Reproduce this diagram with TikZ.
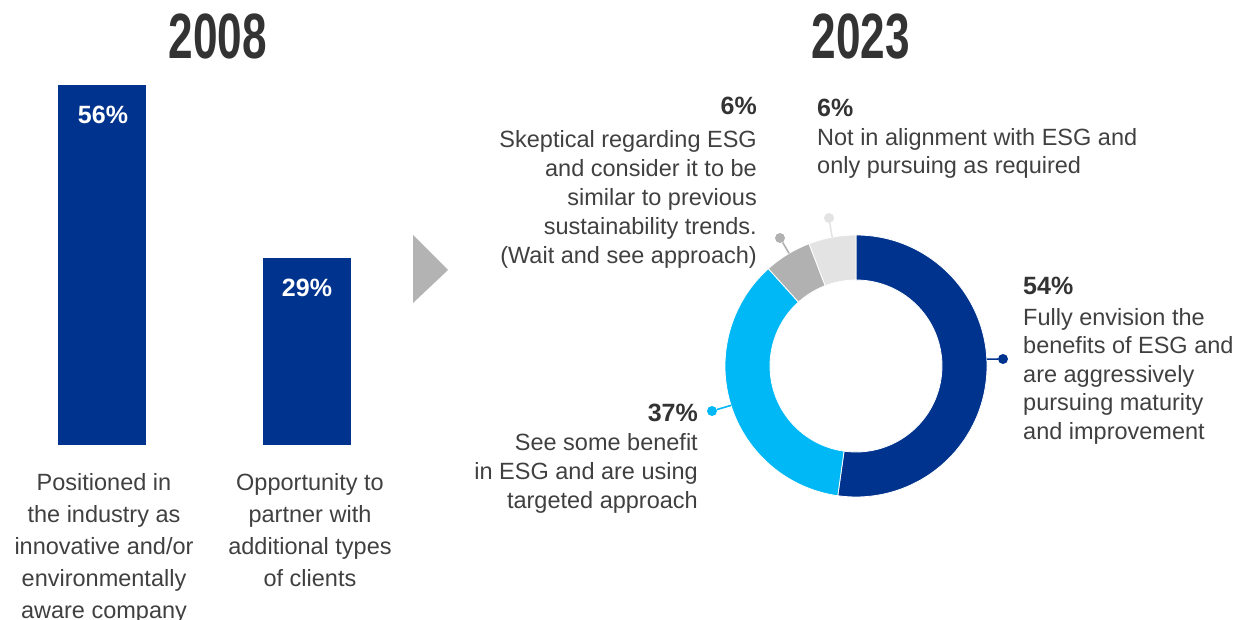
\documentclass[tikz,border=0pt]{standalone}
\usepackage{fontspec}
\setmainfont{Liberation Sans}
\definecolor{kblue}{HTML}{00338D}
\definecolor{kcyan}{HTML}{00B8F5}
\definecolor{kgray}{HTML}{B1B1B1}
\definecolor{klgray}{HTML}{E3E3E3}
\definecolor{ktext}{HTML}{404040}
\definecolor{ktitle}{HTML}{333333}
\definecolor{karrow}{HTML}{B3B3B3}
\begin{document}
\begin{tikzpicture}[x=1pt,y=-1pt,
  title/.style={font=\fontsize{64}{64}\selectfont\bfseries, text=ktitle, inner sep=0pt, anchor=base},
  pct/.style={font=\fontsize{25}{25}\selectfont\bfseries, text=ktitle, inner sep=0pt},
  barpct/.style={font=\fontsize{25}{25}\selectfont\bfseries, text=white, inner sep=0pt, anchor=base},
  body/.style={font=\fontsize{23.5}{29}\selectfont, text=ktext, inner sep=0pt},
  barlabel/.style={font=\fontsize{23.5}{32}\selectfont, text=ktext, inner sep=0pt, align=center, anchor=north},
  dot/.style={circle, fill=#1, minimum size=10pt, inner sep=0pt},
  leader/.style={draw=#1, line width=1.6pt},
  seg/.style={fill=#1, draw=white, line width=0.8pt}
]
\useasboundingbox (0,0) rectangle (1254,620);

% titles
\node[title] (t2008) at (218,59) {\scalebox{0.69}[1]{2008}};
\node[title] (t2023) at (861,59) {\scalebox{0.69}[1]{2023}};

% bars
\fill[kblue] (58,85) rectangle (146,445);
\fill[kblue] (263,258) rectangle (351,445);
\node[barpct] (p56) at (103,124) {56\%};
\node[barpct] (p29) at (307,297) {29\%};
\node[barlabel] (l1) at (104,472.8) {Positioned in\\the industry as\\innovative and/or\\environmentally\\aware company};
\node[barlabel] (l2) at (310,472.8) {Opportunity to\\partner with\\additional types\\of clients};

% arrow
\fill[karrow] (413,235) -- (448,270) -- (413,303) -- cycle;

% donut
\begin{scope}[shift={(856,366)}, y=1pt]
  \def\R{131}\def\r{86}
  \path[seg=kblue] (90:\R) arc[start angle=90, end angle=-98, radius=\R] -- (-98:\r) arc[start angle=-98, end angle=90, radius=\r] -- cycle;
  \path[seg=kcyan] (262:\R) arc[start angle=262, end angle=132, radius=\R] -- (132:\r) arc[start angle=132, end angle=262, radius=\r] -- cycle;
  \path[seg=kgray] (132:\R) arc[start angle=132, end angle=111, radius=\R] -- (111:\r) arc[start angle=111, end angle=132, radius=\r] -- cycle;
  \path[seg=klgray] (111:\R) arc[start angle=111, end angle=90, radius=\R] -- (90:\r) arc[start angle=90, end angle=111, radius=\r] -- cycle;
  \coordinate (eblue) at (3:\R);
  \coordinate (ecyan) at (197.5:\R);
  \coordinate (egray) at (120.7:\R);
  \coordinate (elgray) at (100.5:\R);
\end{scope}

% leader dots
\node[dot=kblue] (dblue) at (1003,359) {};
\node[dot=kcyan] (dcyan) at (712,411) {};
\node[dot=kgray] (dgray) at (780,238) {};
\node[dot=klgray] (dlgray) at (829,218) {};
\draw[leader=kblue] (eblue) -- (dblue);
\draw[leader=kcyan] (ecyan) -- (dcyan);
\draw[leader=kgray] (egray) -- (dgray);
\draw[leader=klgray] (elgray) -- (dlgray);

% labels
\node[pct, anchor=north east] (q6a) at (757,96.8) {6\%};
\node[body, anchor=north east, align=right] (b6a) at (757,129.8) {Skeptical regarding ESG\\and consider it to be\\similar to previous\\sustainability trends.\\(Wait and see approach)};
\node[pct, anchor=north west] (q6b) at (817,98.8) {6\%};
\node[body, anchor=north west, align=left, font=\fontsize{23.5}{28}\selectfont] (b6b) at (817,127.8) {Not in alignment with ESG and\\only pursuing as required};
\node[pct, anchor=north west] (q54) at (1023,276.8) {54\%};
\node[body, anchor=north west, align=left, font=\fontsize{23.5}{28.5}\selectfont] (b54) at (1023,307.8) {Fully envision the\\benefits of ESG and\\are aggressively\\pursuing maturity\\and improvement};
\node[pct, anchor=north east] (q37) at (698,403.8) {37\%};
\node[body, anchor=north east, align=right] (b37) at (698,432.8) {See some benefit\\in ESG and are using\\targeted approach};
\end{tikzpicture}
\end{document}
